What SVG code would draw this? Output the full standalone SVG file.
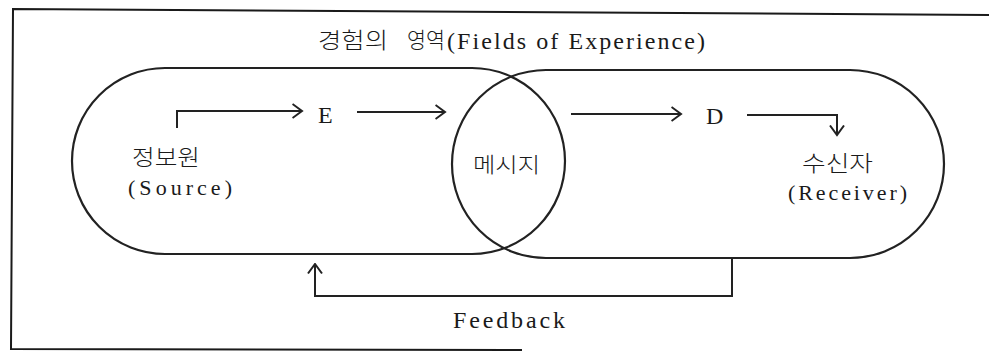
<svg xmlns="http://www.w3.org/2000/svg" width="989" height="353" viewBox="0 0 989 353">
  <style>
    .frame { fill: none; stroke: #1a1a1a; stroke-width: 2; }
    .field { fill: none; stroke: #222; stroke-width: 2.2; }
    .conn { fill: none; stroke: #222; stroke-width: 2; }
    .lat { font-family: "Liberation Serif", "Times New Roman", serif; fill: #1a1a1a; }
    .kor { font-family: "Noto Sans CJK KR", "Noto Sans", sans-serif; fill: #1a1a1a; font-weight: 300; }
  </style>
  <defs>
    <marker id="chev" viewBox="0 0 12 16" refX="10.5" refY="8" markerWidth="12" markerHeight="16" markerUnits="userSpaceOnUse" orient="auto">
      <path d="M1,1 L10.5,8 L1,15" fill="none" stroke="#222" stroke-width="2"/>
    </marker>
  </defs>
  <rect width="989" height="353" fill="#ffffff"/>

  <g id="frame">
    <path class="frame" d="M989,15 L13,9 L11,349 L522,350"/>
  </g>

  <g id="title">
    <text class="kor" x="318" y="48" font-size="22" textLength="70" lengthAdjust="spacingAndGlyphs">경험의</text>
    <text class="kor" x="407" y="48" font-size="22" textLength="38" lengthAdjust="spacingAndGlyphs">영역</text>
    <text class="lat" x="447" y="49" font-size="24" textLength="258" lengthAdjust="spacing">(Fields of Experience)</text>
  </g>

  <g id="source-field">
    <rect class="field" x="72" y="68" width="493" height="186" rx="93" ry="93"/>
    <text class="kor" x="132" y="165" font-size="22" textLength="68" lengthAdjust="spacingAndGlyphs">정보원</text>
    <text class="lat" x="128" y="195" font-size="22" textLength="104" lengthAdjust="spacing">(Source)</text>
  </g>

  <g id="receiver-field">
    <rect class="field" x="452" y="70" width="492" height="188" rx="94" ry="94"/>
    <text class="kor" x="802" y="171" font-size="22" textLength="71" lengthAdjust="spacingAndGlyphs">수신자</text>
    <text class="lat" x="788" y="200" font-size="22" textLength="119" lengthAdjust="spacing">(Receiver)</text>
  </g>

  <g id="message">
    <text class="kor" x="473" y="172" font-size="21" textLength="67" lengthAdjust="spacingAndGlyphs">메시지</text>
  </g>

  <g id="encoder">
    <text class="lat" x="318" y="123" font-size="24">E</text>
  </g>

  <g id="decoder">
    <text class="lat" x="706" y="124" font-size="24">D</text>
  </g>

  <g id="connectors">
    <path class="conn" d="M177,128 V111 H302" marker-end="url(#chev)"/>
    <path class="conn" d="M357,112 H445" marker-end="url(#chev)"/>
    <path class="conn" d="M571,114 H681" marker-end="url(#chev)"/>
    <path class="conn" d="M747,115 H837 V135" marker-end="url(#chev)"/>
    <path class="conn" d="M732,258 V296 H315 V264" marker-end="url(#chev)"/>
  </g>

  <g id="feedback-label">
    <text class="lat" x="453" y="328" font-size="24" textLength="112" lengthAdjust="spacing">Feedback</text>
  </g>
</svg>
